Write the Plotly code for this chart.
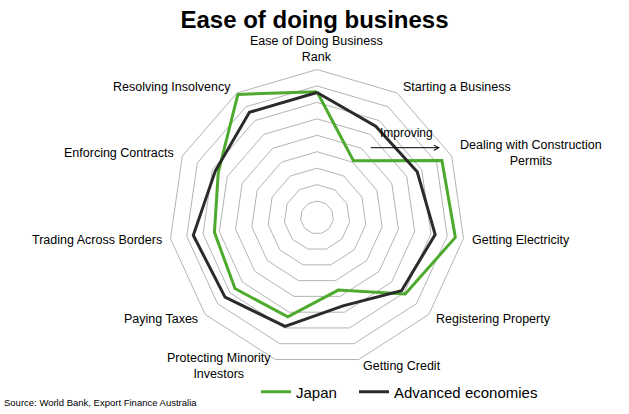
import math
import plotly.graph_objects as go

categories = [
    "Ease of Doing Business<br>Rank",
    "Starting a Business",
    "Dealing with Construction<br>Permits",
    "Getting Electricity",
    "Registering Property",
    "Getting Credit",
    "Protecting Minority<br>Investors",
    "Paying Taxes",
    "Trading Across Borders",
    "Enforcing Contracts",
    "Resolving Insolvency",
]
japan = [7.65, 4.1, 8.35, 8.5, 7.1, 4.6, 6.3, 6.6, 6.3, 6.6, 8.9]
advanced = [7.6, 6.6, 6.7, 7.26, 6.8, 5.6, 6.9, 7.4, 7.6, 6.8, 7.6]
series_names = ["Japan", "Advanced economies"]
series_colors = ["#4DAA2D", "#2B2B2B"]
radial_max = 9

W, H = 629, 414
FONT = "Liberation Sans, Arial, sans-serif"

fig = go.Figure()
for k, (name, vals, col) in enumerate(zip(series_names, [japan, advanced], series_colors)):
    fig.add_trace(go.Scatterpolar(
        r=vals + vals[:1],
        theta=categories + categories[:1],
        mode="lines",
        name=name,
        line=dict(color=col, width=3),
        legend="legend" if k == 0 else "legend2",
    ))

# polar placement (pixels)
cx, cy, R = 317, 217.5, 148

# category labels placed just outside the outer polygon, centred text blocks
annotations = []
n = len(categories)
for i, lab in enumerate(categories):
    a = math.radians(90 - i * 360 / n)
    ca, sa = math.cos(a), math.sin(a)
    vx, vy = cx + R * ca, cy - R * sa
    d = 4 if sa > 0.9 else 7
    px, py = vx + d * ca, vy - d * sa
    if ca > 0.15:
        xa = "left"
    elif ca < -0.15:
        xa = "right"
    else:
        xa = "center"
    ya = "bottom" if sa > 0.9 else "middle"
    annotations.append(dict(
        text=lab, x=px / W, y=1 - py / H, xref="paper", yref="paper",
        xanchor=xa, yanchor=ya, align="center", showarrow=False,
        font=dict(size=12.5, color="black", family=FONT),
    ))

annotations += [
    dict(text="Improving", x=406 / W, y=1 - 133 / H, xref="paper", yref="paper",
         showarrow=False, font=dict(size=12, color="black", family=FONT),
         xanchor="center", yanchor="middle"),
    dict(text="", x=440 / W, y=1 - 147.7 / H, xref="paper", yref="paper",
         showarrow=True, ax=-70.7, ay=0, axref="pixel", ayref="pixel",
         arrowhead=5, arrowsize=1, arrowwidth=1, arrowcolor="black"),
    dict(text="Source: World Bank, Export Finance Australia",
         x=2 / W, y=1 - 402 / H, xref="paper", yref="paper",
         xanchor="left", yanchor="middle", showarrow=False,
         font=dict(size=9.5, color="black", family=FONT)),
]

legend_common = dict(
    orientation="h",
    y=1 - 392 / H, yanchor="middle",
    font=dict(size=15, color="black", family=FONT),
    bgcolor="rgba(0,0,0,0)",
    itemwidth=30,
)

fig.update_layout(
    width=W, height=H,
    margin=dict(l=0, r=0, t=0, b=0),
    paper_bgcolor="white",
    plot_bgcolor="white",
    font=dict(family=FONT, color="black"),
    title=dict(
        text="<b>Ease of doing business</b>",
        x=0.5, xanchor="center",
        y=1 - 20 / H, yanchor="middle",
        font=dict(size=24, color="black", family=FONT),
    ),
    polar=dict(
        domain=dict(x=[(cx - R) / W, (cx + R) / W],
                    y=[(H - (cy + R)) / H, (H - (cy - R)) / H]),
        gridshape="linear",
        bgcolor="white",
        radialaxis=dict(
            range=[0, radial_max], dtick=1, tick0=0,
            showticklabels=False, ticks="",
            showline=False,
            gridcolor="#B4B4B4", gridwidth=1,
        ),
        angularaxis=dict(
            rotation=90, direction="clockwise",
            showgrid=False,
            ticks="", showticklabels=False,
            showline=True, linecolor="#B4B4B4", linewidth=1,
        ),
    ),
    showlegend=True,
    legend=dict(x=256 / W, xanchor="left", **legend_common),
    legend2=dict(x=354 / W, xanchor="left", **legend_common),
    annotations=annotations,
)

fig.write_html("out.html", config={"displayModeBar": False},
               post_script="document.body.style.margin='0px';")
